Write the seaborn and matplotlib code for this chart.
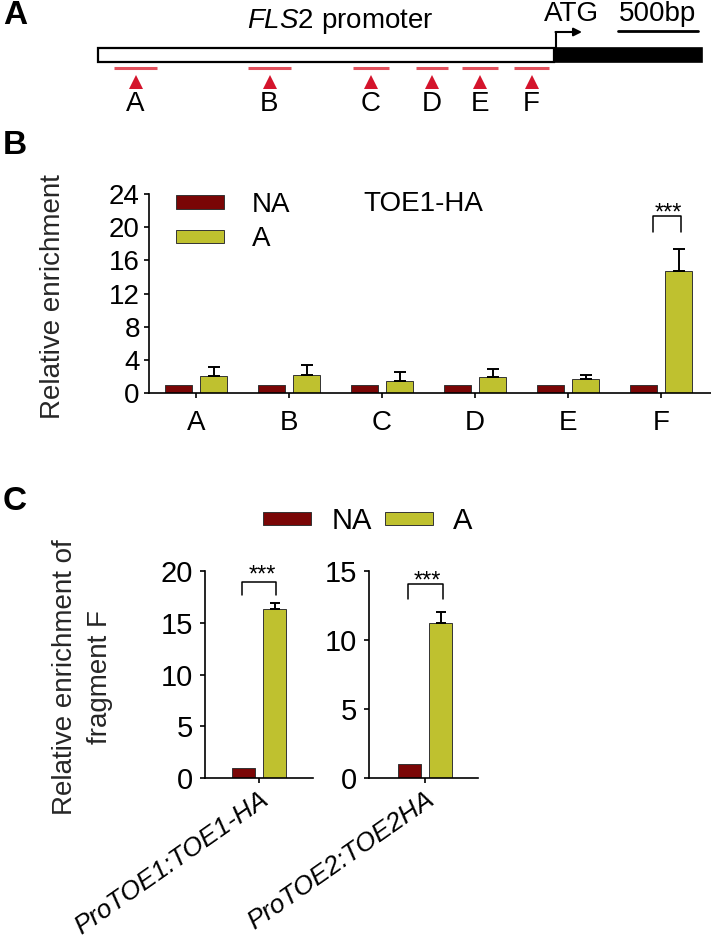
import numpy as np
import pandas as pd
import matplotlib
matplotlib.use("Agg")
import matplotlib.pyplot as plt
from matplotlib.patches import Rectangle, Patch
import seaborn as sns

# ---------------- data ----------------
fragments = ["A", "B", "C", "D", "E", "F"]
treatments = ["NA", "A"]
b_na = [1.0, 1.0, 1.0, 1.0, 1.0, 1.0]
b_a = [2.0, 2.2, 1.4, 1.9, 1.7, 14.7]
b_a_err = [1.1, 1.2, 1.1, 1.0, 0.5, 2.7]

constructs = ["ProTOE1:TOE1-HA", "ProTOE2:TOE2HA"]
c_na = [1.0, 1.0]
c_a = [16.3, 11.2]
c_a_err = [0.6, 0.8]
c_ymax = [20, 15]

# schematic of panel A (drawing units = pixels across the figure width)
promoter_span = (98, 554)
coding_span = (554, 702)
frag_starts = [114, 248, 353, 416, 462, 514]
frag_ends = [157, 291, 389, 448, 498, 549]
scale_bar = (618, 698)

NA_COLOR = "#7A0606"
A_COLOR = "#BFC12F"
EDGE = "#333333"

W, H = 711, 942
sns.set_theme(style="ticks")
plt.rcParams.update({
    "font.family": ["Liberation Sans", "DejaVu Sans"],
    "mathtext.fontset": "custom",
    "mathtext.rm": "Liberation Sans",
    "mathtext.it": "Liberation Sans:italic",
    "axes.linewidth": 1.2,
    "axes.edgecolor": "black",
    "xtick.color": "black",
    "ytick.color": "black",
    "text.color": "black",
})

fig = plt.figure(figsize=(W / 100, H / 100), dpi=100)


def px_axes(l, t, r, b):
    return fig.add_axes([l / W, 1 - b / H, (r - l) / W, (b - t) / H])


# ---------------- panel A : schematic ----------------
axA = px_axes(0, 0, W, 130)
axA.set_xlim(0, W)
axA.set_ylim(130, 0)
axA.axis("off")
axA.add_patch(Rectangle((promoter_span[0], 48), promoter_span[1] - promoter_span[0], 14,
                        facecolor="white", edgecolor="black", lw=1.6))
axA.add_patch(Rectangle((coding_span[0], 48), coding_span[1] - coding_span[0], 14,
                        facecolor="black", edgecolor="black", lw=1.2))
axA.plot([coding_span[0] + 2, coding_span[0] + 2], [48, 32], color="black", lw=1.5)
axA.annotate("", xy=(582, 32), xytext=(coding_span[0] + 1.5, 32),
             arrowprops=dict(arrowstyle="-|>", color="black", lw=1.5, mutation_scale=12,
                             shrinkA=0, shrinkB=0))
axA.text(571, 14, "ATG", ha="center", va="center", fontsize=20)
axA.plot(list(scale_bar), [31, 31], color="black", lw=2)
axA.text(657, 14, "500bp", ha="center", va="center", fontsize=20)
axA.text(340, 22, r"$\mathit{FLS2}$ promoter", ha="center", va="center", fontsize=20)
for s, e, lab in zip(frag_starts, frag_ends, fragments):
    c = (s + e) / 2
    axA.plot([s, e], [68, 68], color="#E2505C", lw=2.2, solid_capstyle="butt")
    axA.plot([c], [82], marker="^", markersize=10.5, color="#D4142C", markeredgewidth=0)
    axA.text(c, 104, lab, ha="center", va="center", fontsize=20)

# ---------------- panel B ----------------
axB = px_axes(149, 194, 711, 393)
dfB = pd.DataFrame({"fragment": fragments * 2,
                    "treatment": ["NA"] * 6 + ["A"] * 6,
                    "value": b_na + b_a})
sns.barplot(data=dfB, x="fragment", y="value", hue="treatment", order=fragments,
            hue_order=treatments, palette=[NA_COLOR, A_COLOR], saturation=1,
            width=0.76, gap=0.25, errorbar=None, edgecolor=EDGE, linewidth=0.7,
            legend=False, ax=axB)
xs = [p.get_x() + p.get_width() / 2 for p in axB.containers[1]]
axB.errorbar(xs, b_a, yerr=[np.zeros(len(b_a)), b_a_err], fmt="none", ecolor="black",
             elinewidth=1.4, capsize=4.3, capthick=1.4, zorder=3)
axB.set_ylim(0, 24)
axB.set_yticks(range(0, 25, 4))
axB.set_xlim(-0.505, 5.538)
sns.despine(ax=axB)
axB.set_xlabel("")
axB.set_ylabel("Relative enrichment", fontsize=20, va="center", ha="center")
axB.yaxis.set_label_coords((53 - 149) / 562, (393 - 297) / 199)
axB.tick_params(axis="y", labelsize=20, length=3.6, width=1.2, pad=3)
axB.tick_params(axis="x", labelsize=20, length=3.6, width=1.2, pad=9)
# significance on F
x0, x1 = 5 - 0.09, 5 + 0.215
axB.plot([x0, x0, x1, x1], [19.4, 21.3, 21.3, 19.4], color="black", lw=1.1, clip_on=False)
axB.text(5 + 0.075, 20.9, "***", ha="center", va="baseline", fontsize=17)
hB = [Patch(facecolor=NA_COLOR, edgecolor=EDGE, linewidth=0.7, label="NA"),
      Patch(facecolor=A_COLOR, edgecolor=EDGE, linewidth=0.7, label="A")]
axB.legend(handles=hB, loc="upper left", bbox_to_anchor=(176 / W, 1 - 192 / H),
           bbox_transform=fig.transFigure, frameon=False, fontsize=20,
           handlelength=48 / 27.8, handleheight=10 / 27.8, handletextpad=1.0,
           labelspacing=0.3, borderpad=0, borderaxespad=0)
axB.text((423 - 149) / 562, (393 - 204) / 199, "TOE1-HA", transform=axB.transAxes,
         ha="center", va="center", fontsize=20)

# ---------------- panel C ----------------
boxes = [(205, 571, 313, 778, -0.65, 0.65), (369, 571, 478, 778, -0.675, 0.64)]
brackets = [((-0.2, 0.21), (17.7, 18.9), 0.036, 19.0),
            ((-0.2, 0.22), (13.0, 14.05), 0.024, 13.8)]
axesC = []
for i, cons in enumerate(constructs):
    l, t, r, b, xl, xr = boxes[i]
    ax = px_axes(l, t, r, b)
    axesC.append(ax)
    dfc = pd.DataFrame({"construct": [cons, cons], "treatment": treatments,
                        "value": [c_na[i], c_a[i]]})
    sns.barplot(data=dfc, x="construct", y="value", hue="treatment", hue_order=treatments,
                palette=[NA_COLOR, A_COLOR], saturation=1, width=0.76, gap=0.27,
                errorbar=None, edgecolor=EDGE, linewidth=0.7, legend=False, ax=ax)
    pa = ax.containers[1][0]
    ax.errorbar([pa.get_x() + pa.get_width() / 2], [c_a[i]], yerr=[[0], [c_a_err[i]]],
                fmt="none", ecolor="black", elinewidth=1.4, capsize=3.3, capthick=1.4, zorder=3)
    ax.set_ylim(0, c_ymax[i])
    ax.set_yticks(range(0, c_ymax[i] + 1, 5))
    ax.set_xlim(xl, xr)
    sns.despine(ax=ax)
    ax.set_xlabel("")
    ax.set_ylabel("")
    ax.tick_params(axis="y", labelsize=21, length=3.6, width=1.2, pad=5)
    ax.tick_params(axis="x", labelsize=19, length=3.6, width=1.2, pad=3)
    for lbl in ax.get_xticklabels():
        lbl.set_rotation(35)
        lbl.set_ha("right")
        lbl.set_va("top")
        lbl.set_rotation_mode("anchor")
        lbl.set_style("italic")
    (bx0, bx1), (ylo, yhi), sx, sy = brackets[i]
    ax.plot([bx0, bx0, bx1, bx1], [ylo, yhi, yhi, ylo], color="black", lw=1.1, clip_on=False)
    ax.text(sx, sy, "***", ha="center", va="baseline", fontsize=17, clip_on=False)

axesC[0].set_ylabel("Relative enrichment of\nfragment F", fontsize=20, va="center",
                    ha="center", linespacing=1.45)
axesC[0].yaxis.set_label_coords((82.5 - 205) / 108, (778 - 677) / 207)

hC = [Patch(facecolor=NA_COLOR, edgecolor=EDGE, linewidth=0.7, label="NA"),
      Patch(facecolor=A_COLOR, edgecolor=EDGE, linewidth=0.7, label="A")]
fig.legend(handles=hC, loc="upper left", bbox_to_anchor=(263 / W, 1 - 507 / H), ncol=2,
           frameon=False, fontsize=21, handlelength=48 / 29.2, handleheight=10 / 29.2,
           handletextpad=0.7, columnspacing=0.45, borderpad=0, borderaxespad=0)

# panel letters
for lab, y in [("A", 16), ("B", 145), ("C", 501)]:
    fig.text(3 / W, 1 - y / H, lab, fontsize=24, fontweight="bold", ha="left", va="center")

fig.savefig("out.png", dpi=100)
